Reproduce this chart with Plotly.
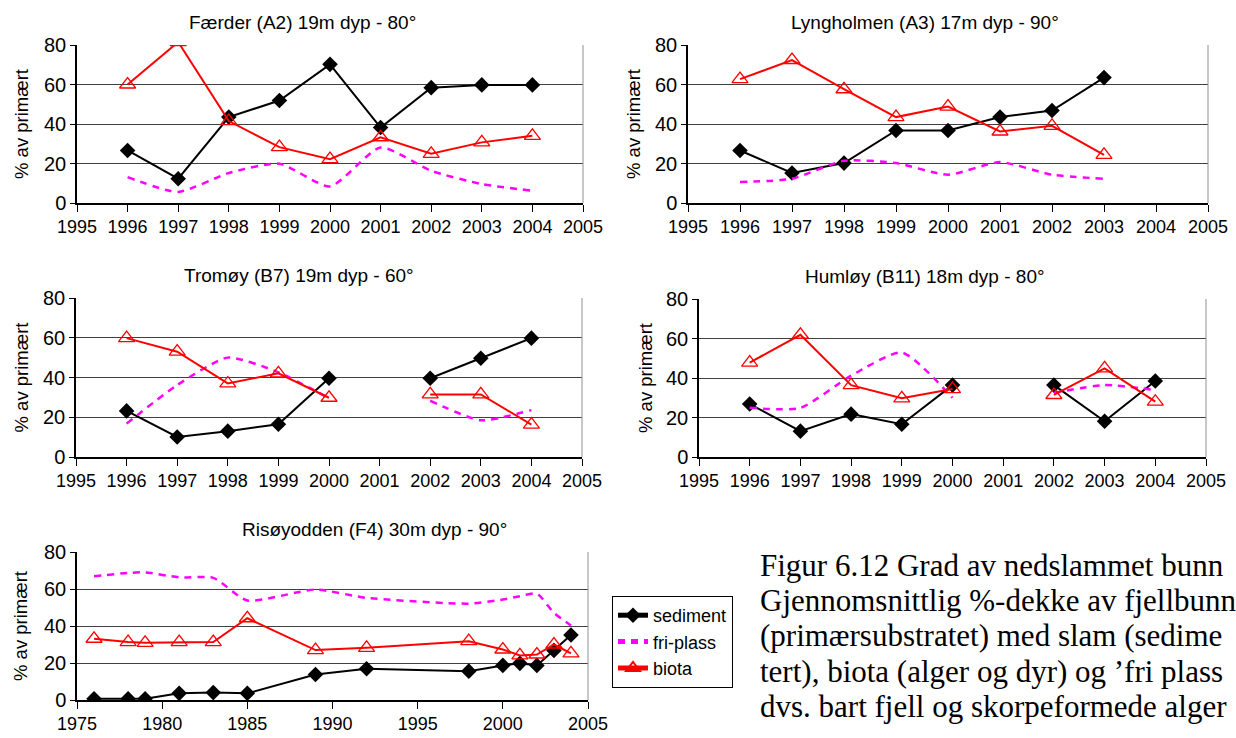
import plotly.graph_objects as go

W, H = 1236, 738

# ---------------- data ----------------
years_a = [1996, 1997, 1998, 1999, 2000, 2001, 2002, 2003, 2004]
faerder_sediment = [26.6, 12.3, 43.5, 51.9, 70.2, 38.2, 58.4, 59.8, 59.8]
faerder_friplass = [13.1, 5.6, 15.2, 19.9, 8.4, 28.1, 16.3, 9.6, 6.2]
faerder_biota = [60.0, 81.5, 41.5, 28.3, 22.2, 33.3, 24.9, 30.7, 34.0]

years_b = [1996, 1997, 1998, 1999, 2000, 2001, 2002, 2003]
lyng_sediment = [26.6, 15.2, 20.2, 36.7, 36.7, 43.5, 46.8, 63.5]
lyng_friplass = [10.6, 12.3, 21.4, 20.2, 14.3, 20.7, 14.3, 12.3]
lyng_biota = [62.7, 72.4, 57.6, 43.5, 48.8, 36.2, 39.1, 24.4]

years_c = [1996, 1997, 1998, 1999, 2000, 2001, 2002, 2003, 2004]
tromoy_sediment = [23.2, 10.1, 13.0, 16.5, 39.6, None, 39.6, 49.7, 59.8]
tromoy_friplass = [16.8, 36.2, 50.0, 42.6, 29.5, None, 28.3, 18.5, 23.6]
tromoy_biota = [59.8, 53.0, 37.0, 42.1, 29.8, None, 31.5, 31.5, 16.3]

humloy_sediment = [26.8, 13.1, 21.7, 16.6, 36.4, None, 36.4, 18.1, 38.5]
humloy_friplass = [24.9, 24.9, 41.2, 52.9, 30.0, None, 32.5, 36.4, 33.9]
humloy_biota = [47.8, 61.9, 36.4, 29.7, 34.4, None, 31.4, 44.9, 28.0]

years_r = [1976, 1978, 1979, 1981, 1983, 1985, 1989, 1992, 1998, 2000, 2001, 2002, 2003, 2004]
riso_sediment = [0.7, 0.7, 0.7, 3.6, 4.0, 3.6, 13.8, 16.9, 15.6, 18.7, 19.8, 18.7, 26.8, 35.1]
riso_friplass = [66.9, 68.7, 69.0, 66.3, 66.0, 53.8, 59.7, 55.2, 52.1, 54.3, 56.1, 57.5, 47.1, 40.3]
riso_biota = [33.1, 31.3, 30.9, 31.3, 31.3, 44.2, 27.0, 28.2, 31.8, 27.3, 24.1, 24.6, 30.0, 25.2]

titles = [
    "Færder (A2) 19m dyp - 80°",
    "Lyngholmen (A3) 17m dyp - 90°",
    "Tromøy (B7) 19m dyp - 60°",
    "Humløy (B11) 18m dyp - 80°",
    "Risøyodden (F4) 30m dyp - 90°",
]
series_names = ["sediment", "fri-plass", "biota"]
y_title = "% av primært"
y_ticks = [0, 20, 40, 60, 80]

# caption text as far as it is visible in the reference
caption_lines = [
    "Figur 6.12 Grad av nedslammet bunn",
    "Gjennomsnittlig %-dekke av fjellbunn",
    "(primærsubstratet) med slam (sedime",
    "tert), biota (alger og dyr) og ’fri plass",
    "dvs. bart fjell og skorpeformede alger",
]

panels = [
    (years_a, faerder_sediment, faerder_friplass, faerder_biota, [1995, 2005], 1),
    (years_b, lyng_sediment, lyng_friplass, lyng_biota, [1995, 2005], 1),
    (years_c, tromoy_sediment, tromoy_friplass, tromoy_biota, [1995, 2005], 1),
    (years_c, humloy_sediment, humloy_friplass, humloy_biota, [1995, 2005], 1),
    (years_r, riso_sediment, riso_friplass, riso_biota, [1975, 2005], 5),
]

# plot-area pixel boxes (x0, x1, y0, y1) from top-left
boxes = [
    (77, 583, 45, 203),
    (688, 1208, 45, 203),
    (76, 582, 298, 457),
    (699, 1206, 299, 457),
    (77, 588, 552, 700),
]
ytitle_x = [21, 633, 21, 645, 20]
title_cx = [302, 925, 299, 925, 374]

FONT = "Liberation Sans, Arial, sans-serif"
fig = go.Figure()
layout = dict(
    width=W, height=H, margin=dict(l=0, r=0, t=0, b=0, autoexpand=False),
    paper_bgcolor="white", plot_bgcolor="white",
    font=dict(family=FONT, color="black", size=18),
    showlegend=True,
    legend=dict(
        x=612 / W, y=1 - 596 / H, xanchor="left", yanchor="top",
        bordercolor="black", borderwidth=1, bgcolor="white",
        font=dict(family=FONT, size=18, color="black"),
        tracegroupgap=0, itemsizing="constant",
    ),
)
annotations = []

for i, (xs, sed, fri, bio, xr, dt) in enumerate(panels):
    n = i + 1
    xa = "x" if n == 1 else f"x{n}"
    ya = "y" if n == 1 else f"y{n}"
    x0, x1, y0, y1 = boxes[i]
    show = (i == 0)
    fig.add_trace(go.Scatter(
        x=xs, y=sed, xaxis=xa, yaxis=ya, name=series_names[0],
        mode="lines+markers", line=dict(color="black", width=2),
        marker=dict(symbol="diamond", size=12, color="black"),
        showlegend=show, legendrank=1, legendgroup="g1",
    ))
    fig.add_trace(go.Scatter(
        x=xs, y=fri, xaxis=xa, yaxis=ya, name=series_names[1],
        mode="lines", line=dict(color="#FF00FF", width=2.5, dash="7px,6px",
                                shape="spline", smoothing=0.6),
        showlegend=show, legendrank=2, legendgroup="g2",
    ))
    fig.add_trace(go.Scatter(
        x=xs, y=bio, xaxis=xa, yaxis=ya, name=series_names[2],
        mode="lines+markers", line=dict(color="#FF0000", width=2),
        marker=dict(symbol="triangle-up-open", size=14, color="#FF0000", line=dict(width=1.3)),
        showlegend=show, legendrank=3, legendgroup="g3",
    ))
    axkey_x = "xaxis" if n == 1 else f"xaxis{n}"
    axkey_y = "yaxis" if n == 1 else f"yaxis{n}"
    layout[axkey_x] = dict(
        domain=[x0 / W, x1 / W], range=xr, anchor=ya, automargin=False,
        tickmode="linear", tick0=xr[0], dtick=dt,
        showgrid=False, zeroline=False,
        showline=True, linecolor="black", linewidth=1.5,
        ticks="outside", ticklen=7, tickcolor="black",
        tickfont=dict(size=18),
    )
    layout[axkey_y] = dict(
        domain=[1 - y1 / H, 1 - y0 / H], range=[0, 80], anchor=xa, automargin=False,
        tickvals=y_ticks, showgrid=True, gridcolor="#404040", gridwidth=1.3,
        zeroline=False, showline=True, linecolor="black", linewidth=1.5,
        ticks="outside", ticklen=5, tickcolor="black",
        tickfont=dict(size=20),
    )
    # right border (gray) of plot area
    fig.add_shape(type="line", xref=f"{xa} domain", yref=f"{ya} domain",
                  x0=1, x1=1, y0=0, y1=1, line=dict(color="#909090", width=1))
    annotations.append(dict(
        text=titles[i], xref="paper", yref="paper",
        x=title_cx[i] / W, y=1 - (y0 - 23) / H,
        xanchor="center", yanchor="middle", showarrow=False,
        font=dict(size=19, family=FONT),
    ))
    annotations.append(dict(
        text=y_title, xref="paper", yref="paper", textangle=-90,
        x=ytitle_x[i] / W, y=1 - (y0 + y1) / 2 / H,
        xanchor="center", yanchor="middle", showarrow=False,
        font=dict(size=18.5, family=FONT),
    ))

caption_y = [565, 600, 635, 671, 706]
for k, line in enumerate(caption_lines):
    annotations.append(dict(
        text=line, xref="paper", yref="paper",
        x=758 / W, y=1 - caption_y[k] / H,
        xanchor="left", yanchor="middle", showarrow=False,
        font=dict(size=31, family="Liberation Serif, Times New Roman, serif"),
    ))

layout["annotations"] = annotations
fig.update_layout(**layout)
fig.write_html(
    "out.html",
    config={"displayModeBar": False},
    post_script="document.body.style.margin='0';document.body.style.overflow='hidden';",
)
